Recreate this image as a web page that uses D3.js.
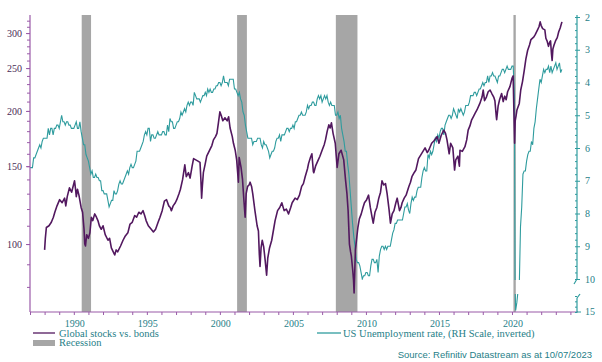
<!DOCTYPE html>
<html>
<head>
<meta charset="utf-8">
<script src="https://cdn.jsdelivr.net/npm/d3@7"></script>
<style>
body { margin: 0; background: #ffffff; }
svg { display: block; }
</style>
</head>
<body>
<svg id="chart"></svg>
<script>
"use strict";

const width = 602;
const height = 362;
const plot = { left: 30, right: 577, top: 15, bottom: 312 };

const purple = "#52185f";
const teal = "#2f9c9e";
const purpleAxis = "#9a5aa8";
const labelTeal = "#1f8088";

// US unemployment rate, monthly, from Jan 1987 (right scale, inverted)
const unemploymentStart = 1987;
const unemployment = [
    6.6, 6.6, 6.6, 6.3, 6.3, 6.2, 6.1, 6.0, 5.9, 6.0, 5.8, 5.7,
    5.7, 5.7, 5.7, 5.4, 5.6, 5.4, 5.4, 5.6, 5.4, 5.4, 5.3, 5.3,
    5.4, 5.2, 5.0, 5.2, 5.2, 5.3, 5.2, 5.2, 5.3, 5.3, 5.4, 5.4,
    5.4, 5.3, 5.2, 5.4, 5.4, 5.2, 5.5, 5.7, 5.9, 5.9, 6.2, 6.3,
    6.4, 6.6, 6.8, 6.7, 6.9, 6.9, 6.8, 6.9, 6.9, 7.0, 7.0, 7.3,
    7.3, 7.4, 7.4, 7.4, 7.6, 7.8, 7.7, 7.6, 7.6, 7.3, 7.4, 7.4,
    7.3, 7.1, 7.0, 7.1, 7.1, 7.0, 6.9, 6.8, 6.7, 6.8, 6.6, 6.5,
    6.6, 6.6, 6.5, 6.4, 6.1, 6.1, 6.1, 6.0, 5.9, 5.8, 5.6, 5.5,
    5.6, 5.4, 5.4, 5.8, 5.6, 5.6, 5.7, 5.7, 5.6, 5.5, 5.6, 5.6,
    5.6, 5.5, 5.5, 5.6, 5.6, 5.3, 5.5, 5.1, 5.2, 5.2, 5.4, 5.4,
    5.3, 5.2, 5.2, 5.1, 4.9, 5.0, 4.9, 4.8, 4.9, 4.7, 4.6, 4.7,
    4.6, 4.6, 4.7, 4.3, 4.4, 4.5, 4.5, 4.5, 4.6, 4.5, 4.4, 4.4,
    4.3, 4.4, 4.2, 4.3, 4.2, 4.3, 4.3, 4.2, 4.2, 4.1, 4.1, 4.0,
    4.0, 4.1, 4.0, 3.8, 4.0, 4.0, 4.0, 4.1, 3.9, 3.9, 3.9, 3.9,
    4.2, 4.2, 4.3, 4.4, 4.3, 4.5, 4.6, 4.9, 5.0, 5.3, 5.5, 5.7,
    5.7, 5.7, 5.7, 5.9, 5.8, 5.8, 5.8, 5.7, 5.7, 5.7, 5.9, 6.0,
    5.8, 5.9, 5.9, 6.0, 6.1, 6.3, 6.2, 6.1, 6.1, 6.0, 5.8, 5.7,
    5.7, 5.6, 5.8, 5.6, 5.6, 5.6, 5.5, 5.4, 5.4, 5.5, 5.4, 5.4,
    5.3, 5.4, 5.2, 5.2, 5.1, 5.0, 5.0, 4.9, 5.0, 5.0, 5.0, 4.9,
    4.7, 4.8, 4.7, 4.7, 4.6, 4.6, 4.7, 4.7, 4.5, 4.4, 4.5, 4.4,
    4.6, 4.5, 4.4, 4.5, 4.4, 4.6, 4.7, 4.6, 4.7, 4.7, 4.7, 5.0,
    5.0, 4.9, 5.1, 5.0, 5.4, 5.6, 5.8, 6.1, 6.1, 6.5, 6.8, 7.3,
    7.8, 8.3, 8.7, 9.0, 9.4, 9.5, 9.5, 9.6, 9.8, 10.0, 9.9, 9.9,
    9.8, 9.8, 9.9, 9.9, 9.6, 9.4, 9.4, 9.5, 9.5, 9.4, 9.8, 9.3,
    9.1, 9.0, 9.0, 9.1, 9.0, 9.1, 9.0, 9.0, 9.0, 8.8, 8.6, 8.5,
    8.3, 8.3, 8.2, 8.2, 8.2, 8.2, 8.2, 8.0, 7.8, 7.8, 7.7, 7.9,
    8.0, 7.7, 7.5, 7.6, 7.5, 7.5, 7.3, 7.2, 7.2, 7.2, 6.9, 6.7,
    6.6, 6.7, 6.7, 6.2, 6.3, 6.1, 6.2, 6.1, 5.9, 5.7, 5.8, 5.6,
    5.7, 5.5, 5.4, 5.4, 5.6, 5.3, 5.2, 5.1, 5.0, 5.0, 5.1, 5.0,
    4.8, 4.9, 5.0, 5.1, 4.8, 4.9, 4.8, 4.9, 5.0, 4.9, 4.7, 4.7,
    4.7, 4.6, 4.4, 4.4, 4.4, 4.3, 4.3, 4.4, 4.3, 4.2, 4.2, 4.1,
    4.0, 4.1, 4.0, 4.0, 3.8, 4.0, 3.8, 3.8, 3.7, 3.8, 3.8, 3.9,
    4.0, 3.8, 3.8, 3.7, 3.6, 3.6, 3.7, 3.6, 3.5, 3.6, 3.6, 3.6,
    3.5, 3.5, 4.4, 14.7, 13.2, 11.0, 10.2, 8.4, 7.8, 6.8, 6.7, 6.7,
    6.4, 6.2, 6.1, 6.1, 5.8, 5.9, 5.4, 5.2, 4.8, 4.5, 4.2, 3.9,
    4.0, 3.8, 3.6, 3.7, 3.6, 3.6, 3.5, 3.7, 3.5, 3.7, 3.6, 3.5,
    3.4, 3.6, 3.5, 3.4, 3.7, 3.6
];

// Global stocks vs. bonds, [year, index] (left log scale)
const stocksBonds = [
    [1988.00, 97], [1988.05, 103], [1988.12, 109], [1988.30, 110], [1988.46, 112],
    [1988.60, 115], [1988.70, 118], [1988.85, 122], [1989.03, 126], [1989.20, 124],
    [1989.37, 127], [1989.45, 122], [1989.55, 128], [1989.70, 134], [1989.85, 131],
    [1990.05, 139], [1990.12, 133], [1990.17, 128], [1990.25, 133], [1990.35, 129],
    [1990.50, 121], [1990.60, 118], [1990.70, 108], [1990.75, 100], [1990.80, 99],
    [1990.88, 105], [1991.00, 103], [1991.10, 106], [1991.20, 115], [1991.30, 113],
    [1991.43, 117], [1991.55, 115], [1991.65, 113], [1991.75, 110], [1991.88, 108],
    [1992.00, 110], [1992.15, 105], [1992.34, 102], [1992.45, 103], [1992.57, 98],
    [1992.70, 96], [1992.80, 94.5], [1992.90, 97], [1993.00, 96], [1993.20, 99],
    [1993.37, 102], [1993.50, 104], [1993.70, 106], [1993.85, 111], [1994.00, 112],
    [1994.17, 116], [1994.30, 115], [1994.45, 118], [1994.60, 117], [1994.74, 119],
    [1994.85, 116], [1994.95, 113], [1995.10, 110], [1995.30, 108], [1995.45, 106.5],
    [1995.60, 108], [1995.77, 112], [1995.90, 115], [1996.05, 119], [1996.20, 125],
    [1996.35, 126], [1996.50, 122], [1996.60, 121], [1996.68, 119], [1996.80, 122],
    [1996.95, 124], [1997.05, 126], [1997.20, 130], [1997.30, 133], [1997.45, 140],
    [1997.60, 151], [1997.70, 142], [1997.85, 145], [1997.96, 141], [1998.10, 150],
    [1998.20, 156], [1998.35, 155], [1998.50, 154], [1998.64, 153], [1998.70, 140],
    [1998.75, 127], [1998.80, 135], [1998.87, 145], [1999.00, 152], [1999.10, 158],
    [1999.30, 163], [1999.45, 167], [1999.56, 172], [1999.70, 175], [1999.80, 178],
    [1999.90, 188], [2000.00, 199], [2000.10, 195], [2000.20, 190], [2000.35, 193],
    [2000.50, 190], [2000.60, 194], [2000.70, 183], [2000.85, 175], [2000.93, 169],
    [2001.05, 163], [2001.15, 155], [2001.27, 138], [2001.32, 157], [2001.45, 149],
    [2001.55, 140], [2001.65, 125], [2001.73, 115], [2001.80, 130], [2001.90, 135],
    [2002.00, 136], [2002.07, 138], [2002.17, 135], [2002.25, 130], [2002.40, 119],
    [2002.55, 110], [2002.64, 107], [2002.70, 95], [2002.75, 89], [2002.82, 98],
    [2002.90, 102], [2003.00, 98.5], [2003.10, 92], [2003.20, 85], [2003.28, 93],
    [2003.40, 98], [2003.55, 102], [2003.70, 109], [2003.78, 113], [2003.95, 119],
    [2004.10, 121], [2004.24, 124], [2004.40, 119], [2004.55, 120], [2004.70, 117],
    [2004.85, 121], [2004.95, 124], [2005.15, 127], [2005.30, 126], [2005.45, 129],
    [2005.60, 135], [2005.72, 137], [2005.84, 142], [2006.00, 148], [2006.07, 152],
    [2006.20, 157], [2006.30, 160], [2006.40, 146], [2006.43, 145], [2006.55, 150],
    [2006.70, 154], [2006.85, 158], [2007.00, 163], [2007.15, 168], [2007.23, 172],
    [2007.35, 180], [2007.46, 186], [2007.55, 183], [2007.64, 188], [2007.75, 178],
    [2007.90, 169], [2008.03, 149], [2008.15, 160], [2008.30, 163], [2008.48, 155],
    [2008.60, 140], [2008.70, 130], [2008.78, 119], [2008.87, 100], [2008.95, 96],
    [2009.00, 94], [2009.10, 87], [2009.15, 83], [2009.19, 77.5], [2009.25, 90],
    [2009.28, 97], [2009.38, 104], [2009.45, 109], [2009.55, 114], [2009.68, 117],
    [2009.80, 121], [2009.90, 124], [2010.05, 126], [2010.18, 129], [2010.30, 121],
    [2010.42, 115], [2010.50, 111.5], [2010.62, 118], [2010.75, 121], [2010.88, 127],
    [2011.00, 131], [2011.10, 139], [2011.22, 136], [2011.34, 137], [2011.45, 130],
    [2011.58, 120], [2011.68, 111.5], [2011.80, 117], [2011.92, 119], [2012.05, 124],
    [2012.14, 127], [2012.30, 119], [2012.40, 121], [2012.48, 124], [2012.62, 127],
    [2012.75, 129], [2012.94, 135], [2013.05, 138], [2013.15, 142], [2013.30, 145],
    [2013.42, 147], [2013.60, 156], [2013.80, 160], [2014.05, 165], [2014.20, 161],
    [2014.30, 163], [2014.50, 169], [2014.65, 171], [2014.88, 175], [2015.00, 169],
    [2015.15, 176], [2015.33, 181], [2015.45, 178], [2015.55, 172], [2015.70, 160],
    [2015.80, 169], [2015.95, 165], [2016.07, 147], [2016.15, 155], [2016.30, 158],
    [2016.40, 150], [2016.44, 163], [2016.60, 162], [2016.78, 166], [2016.90, 172],
    [2017.00, 181], [2017.12, 185], [2017.24, 191], [2017.35, 194], [2017.47, 197.5],
    [2017.60, 201], [2017.80, 208], [2017.95, 215], [2018.03, 223], [2018.12, 211],
    [2018.25, 215], [2018.37, 221], [2018.50, 223], [2018.62, 219], [2018.75, 215],
    [2018.83, 211], [2018.92, 195], [2018.95, 191], [2019.05, 205], [2019.15, 212],
    [2019.29, 219], [2019.40, 210], [2019.50, 216], [2019.60, 212], [2019.70, 221],
    [2019.86, 227], [2020.00, 237], [2020.08, 240], [2020.13, 201], [2020.18, 169],
    [2020.22, 190], [2020.28, 195], [2020.34, 201], [2020.50, 208], [2020.60, 223],
    [2020.72, 233], [2020.84, 247], [2020.95, 262], [2021.07, 274], [2021.20, 282],
    [2021.30, 290], [2021.50, 294], [2021.60, 298], [2021.75, 305], [2021.85, 310],
    [2021.93, 318], [2022.00, 312], [2022.10, 307], [2022.25, 305], [2022.32, 292],
    [2022.40, 288], [2022.50, 280], [2022.58, 286], [2022.64, 288], [2022.70, 270],
    [2022.75, 260], [2022.80, 276], [2022.88, 282], [2022.98, 288], [2023.10, 293],
    [2023.20, 302], [2023.30, 308], [2023.42, 318]
];

// US recessions, [start, end] in decimal years
const recessions = [[1990.54, 1991.18], [2001.18, 2001.85], [2007.94, 2009.42], [2020.10, 2020.26]];

const leftMajor = [100, 150, 200, 250, 300];
const leftMinor = d3.range(80, 330, 10);
const rightMajor = [2, 3, 4, 5, 6, 7, 8, 9, 10];
const rightMinor = d3.range(2, 10.01, 0.2);
const rightLowerMinor = [12, 13, 14, 15];
const yearTicks = d3.range(1987, 2025, 1);
const yearLabels = [1990, 1995, 2000, 2005, 2010, 2015, 2020];

const labelFont = "'Liberation Serif', 'DejaVu Serif', serif";


const svg = d3.select("#chart")
    .attr("width", width)
    .attr("height", height);

svg.append("rect")
    .attr("width", width)
    .attr("height", height)
    .attr("fill", "#ffffff");

const x = d3.scaleLinear()
    .domain([1987, 2024.52])
    .range([plot.left, plot.right + 1]);

const yLeft = d3.scaleLog()
    .domain([70.2, 329.6])
    .range([plot.bottom, plot.top]);

// inverted right scale, broken between 10 and 12
const yRight = d3.scaleLinear()
    .domain([2, 10])
    .range([17, 279]);

const yRightLow = d3.scaleLinear()
    .domain([12, 15])
    .range([296, 312]);

const defs = svg.append("defs");
defs.append("clipPath").attr("id", "clip-plot")
    .append("rect")
    .attr("x", plot.left).attr("y", plot.top)
    .attr("width", plot.right - plot.left).attr("height", plot.bottom - plot.top);
defs.append("clipPath").attr("id", "clip-upper")
    .append("rect")
    .attr("x", plot.left).attr("y", plot.top)
    .attr("width", plot.right - plot.left).attr("height", 280 - plot.top);
defs.append("clipPath").attr("id", "clip-lower")
    .append("rect")
    .attr("x", plot.left).attr("y", 294)
    .attr("width", plot.right - plot.left).attr("height", plot.bottom - 294);


// recession bars
svg.append("g")
    .selectAll("rect")
    .data(recessions)
    .enter()
    .append("rect")
    .attr("x", d => x(d[0]))
    .attr("y", plot.top)
    .attr("width", d => Math.max(2, x(d[1]) - x(d[0])))
    .attr("height", plot.bottom - plot.top)
    .attr("fill", "#a6a6a6");


// unemployment line, drawn twice for the two parts of the broken axis
const unemploymentData = unemployment.map((v, i) => [unemploymentStart + i / 12, v]);

svg.append("path")
    .datum(unemploymentData)
    .attr("clip-path", "url(#clip-upper)")
    .attr("fill", "none")
    .attr("stroke", teal)
    .attr("stroke-width", 1.1)
    .attr("d", d3.line().x(d => x(d[0])).y(d => yRight(d[1])));

svg.append("path")
    .datum(unemploymentData)
    .attr("clip-path", "url(#clip-lower)")
    .attr("fill", "none")
    .attr("stroke", teal)
    .attr("stroke-width", 1.1)
    .attr("d", d3.line().x(d => x(d[0])).y(d => yRightLow(d[1])));

// stocks vs bonds line
svg.append("path")
    .datum(stocksBonds)
    .attr("clip-path", "url(#clip-plot)")
    .attr("fill", "none")
    .attr("stroke", purple)
    .attr("stroke-width", 1.6)
    .attr("stroke-linejoin", "round")
    .attr("d", d3.line().x(d => x(d[0])).y(d => yLeft(d[1])));


// left axis
const leftMinorAxis = svg.append("g")
    .attr("transform", `translate(${plot.left}, 0)`)
    .call(d3.axisLeft(yLeft).tickValues(leftMinor).tickSize(3).tickFormat(""));
leftMinorAxis.select(".domain").remove();
leftMinorAxis.selectAll("line").attr("stroke", purpleAxis);

const leftAxis = svg.append("g")
    .attr("transform", `translate(${plot.left}, 0)`)
    .call(d3.axisLeft(yLeft).tickValues(leftMajor).tickSize(4).tickPadding(4).tickFormat(d3.format("d")));
leftAxis.select(".domain").remove();
leftAxis.selectAll("line").attr("stroke", purpleAxis);
leftAxis.selectAll("text")
    .attr("fill", "#4a2c55")
    .style("font-family", labelFont)
    .style("font-size", "10px");

svg.append("line")
    .attr("x1", plot.left).attr("x2", plot.left)
    .attr("y1", plot.top).attr("y2", plot.bottom)
    .attr("stroke", purpleAxis)
    .attr("stroke-width", 1.2);


// bottom axis
const bottomAxis = svg.append("g")
    .attr("transform", `translate(0, ${plot.bottom})`)
    .call(d3.axisBottom(x).tickValues(yearTicks).tickSize(3).tickFormat(""));
bottomAxis.select(".domain").remove();
bottomAxis.selectAll("line").attr("stroke", purpleAxis);

svg.append("g")
    .selectAll("text")
    .data(yearLabels)
    .enter()
    .append("text")
    .attr("x", d => x(d) + 1)
    .attr("y", 327)
    .attr("text-anchor", "middle")
    .attr("fill", labelTeal)
    .style("font-family", labelFont)
    .style("font-size", "10px")
    .text(d => d);

svg.append("line")
    .attr("x1", plot.left).attr("x2", plot.right + 1)
    .attr("y1", plot.bottom).attr("y2", plot.bottom)
    .attr("stroke", purpleAxis)
    .attr("stroke-width", 1.2);


// right axis, upper part
const rightMinorAxis = svg.append("g")
    .attr("transform", `translate(${plot.right}, 0)`)
    .call(d3.axisLeft(yRight).tickValues(rightMinor).tickSize(2).tickFormat(""));
rightMinorAxis.select(".domain").remove();
rightMinorAxis.selectAll("line").attr("stroke", teal);

const rightAxis = svg.append("g")
    .attr("transform", `translate(${plot.right}, 0)`)
    .call(d3.axisRight(yRight).tickValues(rightMajor).tickSize(3).tickPadding(5).tickFormat(d3.format("d")));
rightAxis.select(".domain").remove();
rightAxis.selectAll("line").attr("stroke", teal);
rightAxis.selectAll("text")
    .attr("fill", labelTeal)
    .style("font-family", labelFont)
    .style("font-size", "10px");

svg.append("line")
    .attr("x1", plot.right).attr("x2", plot.right)
    .attr("y1", plot.top).attr("y2", 279)
    .attr("stroke", teal)
    .attr("stroke-width", 1.2);
svg.append("line")
    .attr("x1", plot.right).attr("x2", plot.right - 3)
    .attr("y1", 279).attr("y2", 284)
    .attr("stroke", teal)
    .attr("stroke-width", 1.2);

// right axis, lower part
const rightLowAxis = svg.append("g")
    .attr("transform", `translate(${plot.right}, 0)`)
    .call(d3.axisLeft(yRightLow).tickValues(rightLowerMinor).tickSize(2).tickFormat(""));
rightLowAxis.select(".domain").remove();
rightLowAxis.selectAll("line").attr("stroke", teal);

svg.append("text")
    .attr("x", plot.right + 8)
    .attr("y", yRightLow(15))
    .attr("dy", "0.32em")
    .attr("fill", labelTeal)
    .style("font-family", labelFont)
    .style("font-size", "10px")
    .text("15");

svg.append("line")
    .attr("x1", plot.right).attr("x2", plot.right)
    .attr("y1", 298).attr("y2", plot.bottom)
    .attr("stroke", teal)
    .attr("stroke-width", 1.2);
svg.append("line")
    .attr("x1", plot.right).attr("x2", plot.right + 3)
    .attr("y1", 298).attr("y2", 294)
    .attr("stroke", teal)
    .attr("stroke-width", 1.2);
svg.append("line")
    .attr("x1", plot.right).attr("x2", plot.right + 4)
    .attr("y1", yRightLow(15)).attr("y2", yRightLow(15))
    .attr("stroke", teal);


// legend
const legend = svg.append("g");

legend.append("line")
    .attr("x1", 33).attr("x2", 55)
    .attr("y1", 333).attr("y2", 333)
    .attr("stroke", purple)
    .attr("stroke-width", 1.3);

legend.append("rect")
    .attr("x", 33).attr("y", 340)
    .attr("width", 22).attr("height", 6)
    .attr("fill", "#a6a6a6");

legend.append("line")
    .attr("x1", 317).attr("x2", 341)
    .attr("y1", 333).attr("y2", 333)
    .attr("stroke", teal)
    .attr("stroke-width", 1.3);

const legendItems = [
    { text: "Global stocks vs. bonds", x: 59, y: 336.5 },
    { text: "Recession", x: 59, y: 346 },
    { text: "US Unemployment rate, (RH Scale, inverted)", x: 343, y: 336.5 }
];

legend.selectAll("text")
    .data(legendItems)
    .enter()
    .append("text")
    .attr("x", d => d.x)
    .attr("y", d => d.y)
    .attr("fill", labelTeal)
    .style("font-family", labelFont)
    .style("font-size", "10.5px")
    .text(d => d.text);

svg.append("text")
    .attr("x", 592)
    .attr("y", 358)
    .attr("text-anchor", "end")
    .attr("fill", labelTeal)
    .style("font-family", "'Liberation Sans', Arial, sans-serif")
    .style("font-size", "9.5px")
    .text("Source: Refinitiv Datastream as at 10/07/2023");

</script>
</body>
</html>
